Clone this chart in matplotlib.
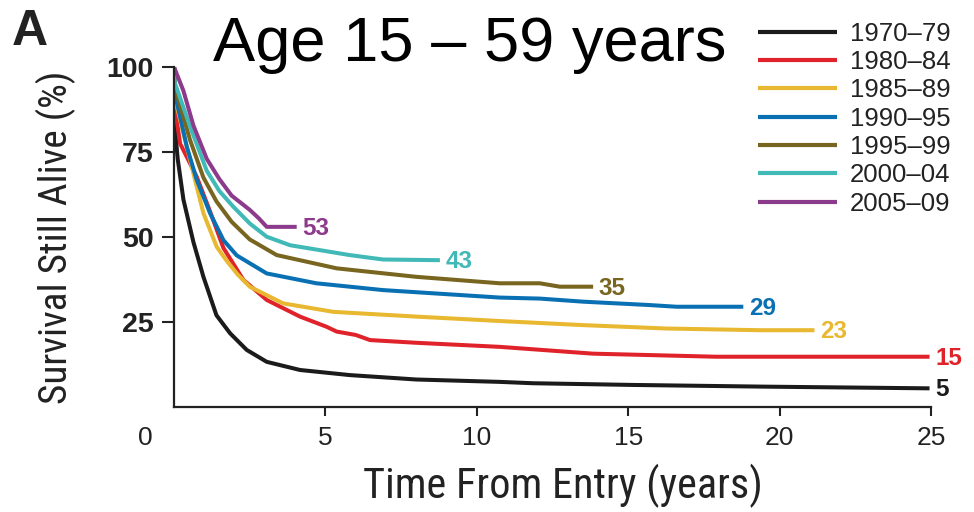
import matplotlib
matplotlib.use("Agg")
import matplotlib.pyplot as plt
from matplotlib import font_manager
from matplotlib.font_manager import FontProperties
from matplotlib.transforms import ScaledTranslation

names = {f.name for f in font_manager.fontManager.ttflist}
SANS = 'Liberation Sans' if 'Liberation Sans' in names else 'DejaVu Sans'

# look for an installed condensed sans face for the axis titles
cond_entries = [f for f in font_manager.fontManager.ttflist
                if f.style == 'normal'
                and ('Condensed' in f.name or 'Narrow' in f.name
                     or str(f.stretch) in ('condensed', 'semi-condensed', 'extra-condensed'))]
pref = ['Roboto Condensed', 'Liberation Sans Narrow', 'Open Sans Condensed',
        'Noto Sans Condensed', 'Noto Sans', 'Roboto', 'Open Sans', 'DejaVu Sans']


def _rank(f):
    try:
        i = pref.index(f.name)
    except ValueError:
        i = len(pref)
    w = f.weight if isinstance(f.weight, int) else 400
    return (i, abs(w - 400))


cond_entries.sort(key=_rank)
if cond_entries and _rank(cond_entries[0])[0] < len(pref) - 1:
    COND_FP = FontProperties(fname=cond_entries[0].fname)
else:
    COND_FP = FontProperties(family=SANS)

# ---- data ----
periods = ["1970\u201379", "1980\u201384", "1985\u201389", "1990\u201395",
           "1995\u201399", "2000\u201304", "2005\u201309"]
colors = ["#1b1b1b", "#e0232b", "#e8b830", "#0a70b4", "#776520", "#40b9b7", "#8c3a8b"]
end_labels = ["5", "15", "23", "29", "35", "43", "53"]

t_7079 = [0, 0.03, 0.12, 0.31, 0.64, 0.97, 1.4, 1.85, 2.4, 3.06, 4.16, 5.8, 8.0, 10.76, 11.86, 15.16, 19.5, 24.95]
s_7079 = [100, 82, 73, 61, 48.5, 38.3, 27.0, 21.7, 16.8, 13.3, 10.9, 9.4, 8.1, 7.4, 7.0, 6.5, 6.0, 5.5]

t_8084 = [0, 0.03, 0.2, 0.75, 1.19, 1.63, 2.29, 3.06, 4.16, 5.04, 5.37, 6.0, 6.47, 8.0, 10.76, 13.84, 17.9, 24.95]
s_8084 = [100, 88, 77.5, 67.7, 57.5, 46.8, 37.4, 31.5, 26.6, 23.6, 22.2, 21.2, 19.7, 18.9, 17.7, 15.7, 14.8, 14.8]

t_8589 = [0, 0.02, 0.31, 0.64, 0.97, 1.41, 1.74, 2.1, 2.5, 3.6, 5.26, 8.0, 10.76, 13.5, 16.25, 19.34, 21.15]
s_8589 = [100, 91, 80.5, 68.7, 57.0, 47.1, 43.0, 39.0, 35.4, 30.5, 28.0, 26.6, 25.3, 24.1, 23.1, 22.6, 22.6]

t_9095 = [0, 0.02, 0.42, 0.75, 1.19, 1.63, 2.07, 3.06, 4.7, 6.9, 10.76, 12.08, 13.5, 15.7, 16.6, 18.8]
s_9095 = [100, 92.5, 76.6, 66.8, 57.0, 49.1, 44.6, 39.3, 36.4, 34.4, 32.2, 31.9, 31.0, 30.0, 29.5, 29.5]

t_9599 = [0, 0.02, 0.53, 0.97, 1.4, 1.9, 2.5, 3.39, 5.37, 8.0, 10.76, 12.08, 12.74, 13.84]
s_9599 = [100, 94.2, 78.5, 67.5, 60.5, 54.5, 49.3, 44.7, 40.8, 38.3, 36.4, 36.4, 35.4, 35.4]

t_0004 = [0, 0.02, 0.53, 1.08, 1.5, 1.96, 2.5, 3.06, 3.83, 5.8, 6.9, 8.78]
s_0004 = [100, 95.5, 82.5, 69.5, 63.5, 58.9, 54.0, 50.1, 47.6, 44.7, 43.4, 43.2]

t_0509 = [0, 0.31, 0.64, 1.08, 1.5, 1.9, 2.5, 2.8, 3.06, 4.05]
s_0509 = [100, 93, 82.8, 73.0, 67.0, 62.2, 58.0, 55.5, 53.0, 53.0]

times = [t_7079, t_8084, t_8589, t_9095, t_9599, t_0004, t_0509]
surv = [s_7079, s_8084, s_8589, s_9095, s_9599, s_0004, s_0509]

x_ticks = [5, 10, 15, 20, 25]
y_ticks = [25, 50, 75, 100]

# ---- figure ----
fig = plt.figure(figsize=(9.74, 5.12), dpi=100)
ax = fig.add_axes([0.1787, 0.205, 0.7772, 0.664])

for t, s, c, lab, end in zip(times, surv, colors, periods, end_labels):
    ax.plot(t, s, color=c, lw=2.9, label=lab, solid_joinstyle='round',
            solid_capstyle='butt')
    ax.annotate(end, xy=(t[-1], s[-1]), xytext=(4, -1), textcoords='offset points',
                color=c, fontsize=17.5, fontweight='bold', family=SANS,
                ha='left', va='center')

ax.set_xlim(0, 25)
ax.set_ylim(0, 100)
for sp in ['top', 'right']:
    ax.spines[sp].set_visible(False)
for sp in ['left', 'bottom']:
    ax.spines[sp].set_linewidth(1.6)
    ax.spines[sp].set_color('#222222')

ax.set_xticks(x_ticks)
ax.set_yticks(y_ticks)
ax.tick_params(axis='x', length=6.5, width=1.5, direction='out', pad=7,
               labelsize=19, colors='#222222')
ax.tick_params(axis='y', length=8.5, width=1.5, direction='out', pad=6,
               labelsize=20.5, colors='#222222')
for lbl in ax.get_xticklabels():
    lbl.set_fontfamily(SANS)
for lbl in ax.get_yticklabels():
    lbl.set_fontfamily(SANS); lbl.set_fontweight('bold')

ax.text(-0.038, 0, "0", ha='center', va='top', fontsize=19, family=SANS,
        color='#222222',
        transform=ax.transAxes + ScaledTranslation(0, -13.5 / 72, fig.dpi_scale_trans))

xl = ax.set_xlabel("Time From Entry (years)", fontproperties=COND_FP, color='#222222')
yl = ax.set_ylabel("Survival Still Alive (%)", fontproperties=COND_FP, color='#222222')
xl.set_fontsize(25)
yl.set_fontsize(24)

# fit axis titles to the reference's extents (px)
renderer = fig.canvas.get_renderer()
bx = xl.get_window_extent(renderer)
xl.set_fontsize(xl.get_fontsize() * 400.0 / bx.width)
by = yl.get_window_extent(renderer)
yl.set_fontsize(yl.get_fontsize() * 333.0 / by.height)
ax.xaxis.set_label_coords(0.513, -0.168)
ax.yaxis.labelpad = 22

fig.text(0.482, 0.913, "Age 15 \u2013 59 years", fontsize=45.5, family=SANS,
         ha='center', va='center')
fig.text(0.012, 0.938, "A", fontsize=36, fontweight='bold', family=SANS,
         ha='left', va='center', color='#222222')

leg = fig.legend(loc='upper left', bbox_to_anchor=(0.778, 0.958), frameon=False,
                 handlelength=3.1, handletextpad=0.47,
                 labelspacing=0.17, borderaxespad=0, borderpad=0,
                 prop={'family': SANS, 'size': 18.5})
for line in leg.get_lines():
    line.set_linewidth(3.0)
for txt in leg.get_texts():
    txt.set_color('#222222')

fig.savefig("out.png", dpi=100)
